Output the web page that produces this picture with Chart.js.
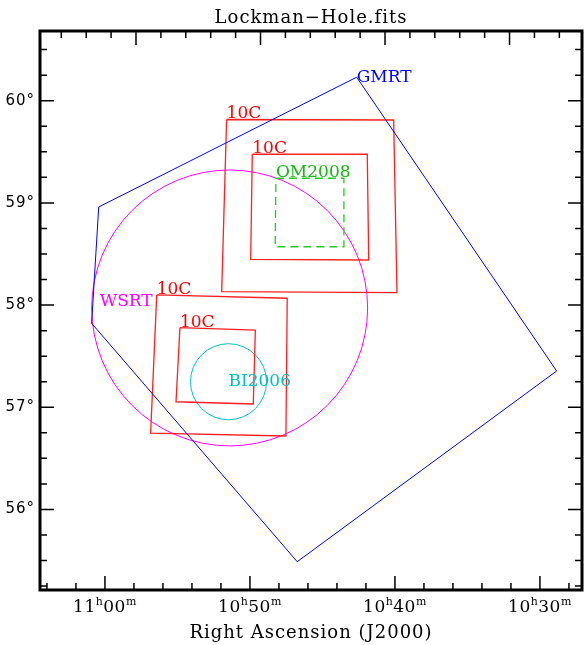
<!DOCTYPE html>
<html>
<head>
<meta charset="utf-8">
<script src="https://cdn.jsdelivr.net/npm/chart.js@4"></script>
<style>
  html, body { margin: 0; padding: 0; background: #fff; }
  canvas { display: block; }
</style>
</head>
<body>
<canvas id="sky" width="584" height="645"></canvas>
<script>
// RA is in minutes past 10h, Dec in degrees
const raTicks = [60, 50, 40, 30];
const decTicks = [56, 57, 58, 59, 60];

const gmrt = [[42.64, 60.23], [28.85, 57.355], [46.74, 55.489], [60.92, 57.822], [60.43, 58.96], [42.64, 60.23]];
const tenCTopOuter = [[51.61, 59.816], [40.09, 59.811], [39.86, 58.121], [51.95, 58.131], [51.61, 59.816]];
const tenCTopInner = [[49.84, 59.476], [41.91, 59.476], [41.81, 58.441], [49.95, 58.448], [49.84, 59.476]];
const tenCLowOuter = [[56.43, 58.099], [47.43, 58.067], [47.52, 56.719], [56.85, 56.746], [56.43, 58.099]];
const tenCLowInner = [[54.83, 57.779], [49.63, 57.756], [49.77, 57.032], [55.10, 57.054], [54.83, 57.779]];
const om2008 = [[48.21, 59.241], [43.52, 59.241], [43.52, 58.571], [48.26, 58.571], [48.21, 59.241]];

const circleNames = ["WSRT", "BI2006"];
const circleRa = [51.40, 51.48];
const circleDec = [57.972, 57.25];
const circleRadius = [1.35, 0.372];   // degrees
const circleColors = ["#ff00ff", "#00c0c0"];

const SERIF = "'DejaVu Serif', serif";

function toPoints(list) {
  return list.map(([x, y]) => ({ x, y }));
}

function isWhole(v, step) {
  const q = v / step;
  return Math.abs(q - Math.round(q)) < 1e-6;
}

const polygons = [
  { label: "GMRT", pts: gmrt, color: "#0000ff", width: 1, text: "GMRT", textColor: "#0000ff", textAt: "vertex" },
  { label: "10C a", pts: tenCTopOuter, color: "#ff2020", width: 1.3, text: "10C", textColor: "#ff0000", textAt: "corner" },
  { label: "10C b", pts: tenCTopInner, color: "#ff2020", width: 1.3, text: "10C", textColor: "#ff0000", textAt: "corner" },
  { label: "10C c", pts: tenCLowOuter, color: "#ff2020", width: 1.3, text: "10C", textColor: "#ff0000", textAt: "corner" },
  { label: "10C d", pts: tenCLowInner, color: "#ff2020", width: 1.3, text: "10C", textColor: "#ff0000", textAt: "corner" },
  { label: "OM2008", pts: om2008, color: "#22cc22", width: 1.3, dash: [8, 5], text: "OM2008", textColor: "#11bb11", textAt: "corner" }
];

const datasets = polygons.map((p) => ({
  label: p.label,
  data: toPoints(p.pts),
  showLine: true,
  fill: false,
  tension: 0,
  borderColor: p.color,
  borderWidth: p.width,
  borderDash: p.dash || [],
  pointRadius: 0
}));

const skyPlugin = {
  id: "sky",
  beforeDraw(chart) {
    // the plot titles are set a little wider than the font's own spacing
    chart.ctx.letterSpacing = "1px";
  },
  beforeDatasetsDraw(chart) {
    const { ctx } = chart;
    ctx.letterSpacing = "0px";
    const x = chart.scales.x;
    const y = chart.scales.y;
    ctx.save();
    circleNames.forEach((name, i) => {
      const cx = x.getPixelForValue(circleRa[i]);
      const cy = y.getPixelForValue(circleDec[i]);
      const r = Math.abs(y.getPixelForValue(circleDec[i] + circleRadius[i]) - cy);
      ctx.beginPath();
      ctx.arc(cx, cy, r, 0, Math.PI * 2);
      ctx.strokeStyle = circleColors[i];
      ctx.lineWidth = 1;
      ctx.stroke();
    });
    ctx.restore();
  },
  afterDatasetsDraw(chart) {
    const { ctx, chartArea } = chart;
    const x = chart.scales.x;
    const x2 = chart.scales.x2;
    const y = chart.scales.y;
    const { left, right, top, bottom } = chartArea;

    ctx.save();
    // shape labels
    ctx.font = `17px ${SERIF}`;
    ctx.textAlign = "left";
    polygons.forEach((p) => {
      const px = x.getPixelForValue(p.pts[0][0]);
      const py = y.getPixelForValue(p.pts[0][1]);
      ctx.fillStyle = p.textColor;
      if (p.textAt === "vertex") {
        ctx.textBaseline = "middle";
        ctx.fillText(p.text, px, py);
      } else {
        ctx.textBaseline = "alphabetic";
        ctx.fillText(p.text, px, py - 1);
      }
    });
    circleNames.forEach((name, i) => {
      const cx = x.getPixelForValue(circleRa[i]);
      const cy = y.getPixelForValue(circleDec[i]);
      const r = Math.abs(y.getPixelForValue(circleDec[i] + circleRadius[i]) - cy);
      ctx.fillStyle = circleColors[i];
      ctx.textBaseline = "middle";
      if (i === 0) {
        ctx.fillText(name, cx - r + 8, cy - 6);
      } else {
        ctx.fillText(name, cx, cy);
      }
    });

    // frame
    ctx.strokeStyle = "#000";
    ctx.lineWidth = 3;
    ctx.strokeRect(left, top, right - left, bottom - top);

    // inward ticks
    ctx.lineWidth = 1.5;
    ctx.beginPath();
    x.ticks.forEach((t) => {
      const px = x.getPixelForValue(t.value);
      const len = isWhole(t.value, 10) ? 14 : 7;
      ctx.moveTo(px, bottom);
      ctx.lineTo(px, bottom - len);
    });
    x2.ticks.forEach((t) => {
      const px = x2.getPixelForValue(t.value);
      const len = isWhole(t.value, 10) ? 14 : 7;
      ctx.moveTo(px, top);
      ctx.lineTo(px, top + len);
    });
    y.ticks.forEach((t) => {
      const py = y.getPixelForValue(t.value);
      const len = isWhole(t.value, 1) ? 14 : 7;
      ctx.moveTo(left, py);
      ctx.lineTo(left + len, py);
      ctx.moveTo(right, py);
      ctx.lineTo(right - len, py);
    });
    ctx.stroke();

    // RA labels with superscript h / m
    ctx.fillStyle = "#000";
    ctx.textBaseline = "alphabetic";
    ctx.textAlign = "left";
    ctx.letterSpacing = "0.5px";
    const big = `17px ${SERIF}`;
    const small = `11px ${SERIF}`;
    raTicks.forEach((v) => {
      const hours = 10 + Math.floor(v / 60);
      const mins = String(v % 60).padStart(2, "0");
      const parts = [[String(hours), big, 0], ["h", small, -7], [mins, big, 0], ["m", small, -7]];
      let w = 0;
      parts.forEach(([s, f]) => { ctx.font = f; w += ctx.measureText(s).width; });
      let cx = x.getPixelForValue(v) - w / 2;
      const base = bottom + 22;
      parts.forEach(([s, f, dy]) => {
        ctx.font = f;
        ctx.fillText(s, cx, base + dy);
        cx += ctx.measureText(s).width;
      });
    });
    ctx.restore();
  }
};

new Chart(document.getElementById("sky"), {
  type: "scatter",
  data: { datasets },
  options: {
    responsive: false,
    animation: false,
    events: [],
    layout: { padding: { left: 0, right: 2, top: 0, bottom: 0 } },
    plugins: {
      legend: { display: false },
      tooltip: { enabled: false },
      title: {
        display: true,
        text: "Lockman\u2212Hole.fits",
        fullSize: false,
        color: "#000",
        font: { family: SERIF, size: 18, weight: "normal" },
        padding: { top: 8, bottom: 1.4 }
      }
    },
    scales: {
      x: {
        type: "linear",
        position: "bottom",
        reverse: true,
        min: 27.10,
        max: 64.48,
        grid: { display: false, drawTicks: false },
        border: { display: false },
        ticks: { display: false, stepSize: 2, includeBounds: false, maxTicksLimit: 100 },
        title: {
          display: true,
          text: "Right Ascension (J2000)",
          color: "#000",
          font: { family: SERIF, size: 18 },
          padding: { top: 0, bottom: 0.5 }
        },
        afterFit: (scale) => { scale.height = 55; }
      },
      x2: {
        type: "linear",
        position: "top",
        reverse: true,
        min: 24.18,
        max: 67.71,
        grid: { display: false, drawTicks: false },
        border: { display: false },
        ticks: { display: false, stepSize: 2, includeBounds: false, maxTicksLimit: 100 },
        afterFit: (scale) => { scale.height = 0; }
      },
      y: {
        type: "linear",
        position: "left",
        min: 55.212,
        max: 60.682,
        grid: { display: false, drawTicks: false },
        border: { display: false },
        ticks: {
          stepSize: 0.25,
          includeBounds: false,
          autoSkip: false,
          maxTicksLimit: 100,
          padding: 5,
          color: "#000",
          font: { family: "'DejaVu Sans', sans-serif", size: 15 },
          callback: (v) => (decTicks.some((d) => Math.abs(d - v) < 1e-6) ? `${Math.round(v)}°` : "")
        },
        afterFit: (scale) => { scale.width = 40; }
      }
    }
  },
  plugins: [skyPlugin]
});
</script>
</body>
</html>
